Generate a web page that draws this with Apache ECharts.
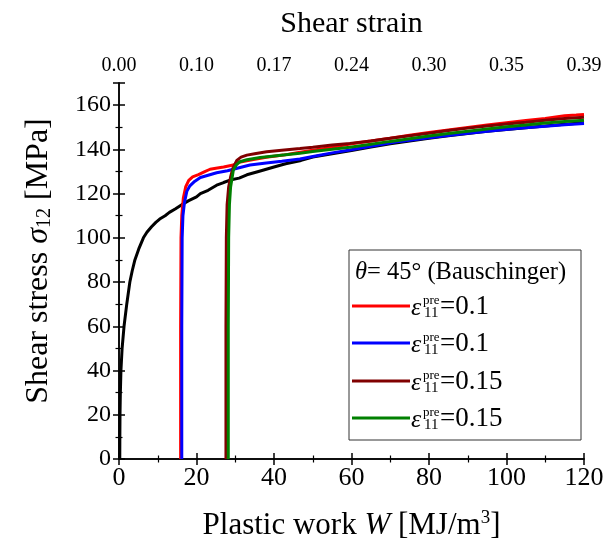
<!DOCTYPE html>
<html><head><meta charset="utf-8">
<script src="https://cdn.jsdelivr.net/npm/echarts@6/dist/echarts.min.js"></script>
<style>html,body{margin:0;padding:0;background:#fff}#c{width:606px;height:541px}</style>
</head><body><div id="c"></div>
<script>
// ---- data (W [MJ/m3], shear stress [MPa]) ----
const topLabels = ['0.00','0.10','0.17','0.24','0.30','0.35','0.39'];
const legendValues = ['0.1','0.1','0.15','0.15'];
const seriesColors = ['#ff0000','#0000ff','#800000','#008000'];
const monotonic = [[0.2,0],[0.22,10],[0.26,20],[0.35,30],[0.5,40],[0.8,50],[1.3,60],[2,70],[2.8,80],[3.4,85],[4.1,90],[5.1,95],[6.3,100],[7.2,102.5],[8.4,105],[9.5,107],[10.5,108.5],[11.9,110],[13,111.5],[14.5,113],[16.2,115],[18,116.8],[20,118.5],[21,120],[23,121.5],[25.2,123.8],[27,125],[29,126.3],[31,127],[33,128.5],[36,130],[40,132],[43,133.5],[47,135],[50,136.5],[55,138],[60,139.5],[65,141],[70,142.5],[75,143.8],[80,145],[85,146.2],[90,147.2],[95,148.2],[100,149],[105,149.8],[110,150.6],[115,151.3],[120,152]];
const pre010a = [[15.9,0],[15.9,60],[16,100],[16.2,110],[16.6,118],[17.2,123],[18,126],[19,127.6],[20.5,128.6],[22,129.8],[23.5,131],[25,131.5],[27,132],[29.5,132.9],[31,134.2],[34,135.2],[38,136.4],[42.4,137.4],[46,138.5],[50,139.6],[55.3,141],[60,142.5],[65,143.8],[70,145],[75,146.4],[80,147.6],[85,148.8],[90,149.9],[95,151],[100,152],[105,153],[110,154],[115,155.2],[118,155.5],[120,155.8]];
const pre010b = [[16.2,0],[16.2,60],[16.3,100],[16.5,110],[16.9,116],[17.5,121],[18.3,123.5],[19.5,125.5],[21,127.3],[23,128.3],[25.2,129.4],[28,130.3],[30,131.2],[33.8,132.9],[38,133.8],[42,134.6],[46.7,135.6],[50,136.8],[55,138.4],[59.6,139.7],[65,141.4],[72.5,143.6],[80,145.2],[86,146.5],[92,147.6],[98.3,148.7],[104,149.6],[110,150.4],[115,151.1],[120,151.7]];
const pre015a = [[27.6,0],[27.6,60],[27.7,100],[27.9,115],[28.3,123],[28.8,127.5],[29.4,131.5],[30.4,135],[31.5,136.5],[33,137.4],[35,138],[38.1,138.9],[42,139.6],[46.7,140.4],[50,141],[55,142],[59.6,142.7],[65,143.8],[70,145],[75,146.2],[80,147.3],[85,148.5],[90,149.6],[95,150.6],[100,151.5],[105,152.3],[110,153.2],[115,154],[120,154.5]];
const pre015b = [[28.2,0],[28.2,60],[28.3,100],[28.5,115],[28.8,123],[29.5,130.6],[30.3,133],[31.2,134.4],[33,135.3],[36.4,136.3],[40,137],[46.7,138.2],[50,139],[55,140],[59.6,141],[65,142.3],[70,143.6],[75,144.8],[80,146],[85,147.2],[90,148.2],[95,149.2],[100,150.2],[105,151],[110,151.9],[115,152.6],[120,153.2]];

const F = '"Liberation Serif","Times New Roman",serif';
const chart = echarts.init(document.getElementById('c'));
const axLine = {show:true, lineStyle:{color:'#000', width:1.5}};
const tick = {show:true, inside:true, length:6, lineStyle:{color:'#000', width:1.5}};
const minor = {show:true, splitNumber:2, length:3.5, lineStyle:{color:'#000', width:1.2}};

function line(name, data, color){
  return {name, type:'line', data, showSymbol:false, symbol:'none', lineStyle:{color, width:3}, itemStyle:{color}, xAxisIndex:0, yAxisIndex:0, animation:false};
}

// legend graphics
const lg = [];
lg.push({type:'rect', shape:{x:349, y:250, width:232, height:190}, style:{fill:'#fff', stroke:'#333', lineWidth:1}, z:100});
lg.push({type:'text', x:355, y:273, z:101, style:{text:'{it|θ}= 45° (Bauschinger)', verticalAlign:'middle', font:'24.5px '+F, fill:'#000',
  rich:{it:{fontStyle:'italic', fontSize:24.5, fontFamily:F}}}});
const rowY = [306, 343, 381, 418];
legendValues.forEach((v,i)=>{
  const y = rowY[i];
  lg.push({type:'line', z:101, shape:{x1:352, y1:y, x2:410, y2:y}, style:{stroke:seriesColors[i], lineWidth:3}});
  lg.push({type:'text', z:101, x:411, y:y+2, style:{text:'ε', font:'italic 26px '+F, fill:'#000', verticalAlign:'middle'}});
  lg.push({type:'text', z:101, x:423, y:y-5, style:{text:'pre', font:'13px '+F, fill:'#000', verticalAlign:'middle'}});
  lg.push({type:'text', z:101, x:424, y:y+7, style:{text:'11', font:'15px '+F, fill:'#000', verticalAlign:'middle'}});
  lg.push({type:'text', z:101, x:440, y:y+1, style:{text:'=' + v, font:'27px '+F, fill:'#000', verticalAlign:'middle'}});
});

chart.setOption({
  animation:false,
  backgroundColor:'#fff',
  grid:{left:119, right:22, top:83, bottom:82, containLabel:false, outerBoundsMode:'none'},
  xAxis:[
    {type:'value', position:'bottom', min:0, max:120, interval:20,
     axisLine:axLine, axisTick:tick, minorTick:minor, splitLine:{show:false},
     axisLabel:{color:'#000', fontFamily:F, fontSize:26, margin:6},
     name:'Plastic work {i|W} [MJ/m{sup|3}]', nameLocation:'middle', nameGap:50,
     nameTextStyle:{color:'#000', fontFamily:F, fontSize:31,
       rich:{i:{fontStyle:'italic', fontFamily:F, fontSize:31}, sup:{fontFamily:F, fontSize:19, verticalAlign:'top', padding:[0,0,14,0]}}}},
    {type:'value', position:'top', min:0, max:120, interval:20,
     axisLine:axLine, axisTick:tick, minorTick:minor, splitLine:{show:false},
     axisLabel:{color:'#000', fontFamily:F, fontSize:20, margin:7, formatter:(v)=>topLabels[Math.round(v/20)]},
     name:'Shear strain', nameLocation:'middle', nameGap:44,
     nameTextStyle:{color:'#000', fontFamily:F, fontSize:30}}
  ],
  yAxis:[
    {type:'value', position:'left', min:0, max:170, interval:20,
     axisLine:axLine, axisTick:tick, minorTick:minor, splitLine:{show:false},
     axisLabel:{color:'#000', fontFamily:F, fontSize:24, margin:8, formatter:(v)=> v>160 ? '' : String(v)},
     name:'Shear stress {s|σ}{sub|12} [MPa]', nameLocation:'middle', nameGap:64, nameRotate:90,
     nameTextStyle:{color:'#000', fontFamily:F, fontSize:32, padding:[0,0,0,20],
       rich:{s:{fontStyle:'italic', fontFamily:F, fontSize:32}, sub:{fontFamily:F, fontSize:20, verticalAlign:'bottom', padding:[12,0,0,0]}}}},
    {type:'value', position:'right', min:0, max:170, interval:20,
     axisLine:axLine, axisTick:tick, minorTick:minor, splitLine:{show:false},
     axisLabel:{show:false}}
  ],
  series:[
    line('monotonic', monotonic, '#000000'),
    line('pre 0.1 a', pre010a, seriesColors[0]),
    line('pre 0.1 b', pre010b, seriesColors[1]),
    line('pre 0.15 a', pre015a, seriesColors[2]),
    line('pre 0.15 b', pre015b, seriesColors[3])
  ],
  graphic:lg
});
</script></body></html>
